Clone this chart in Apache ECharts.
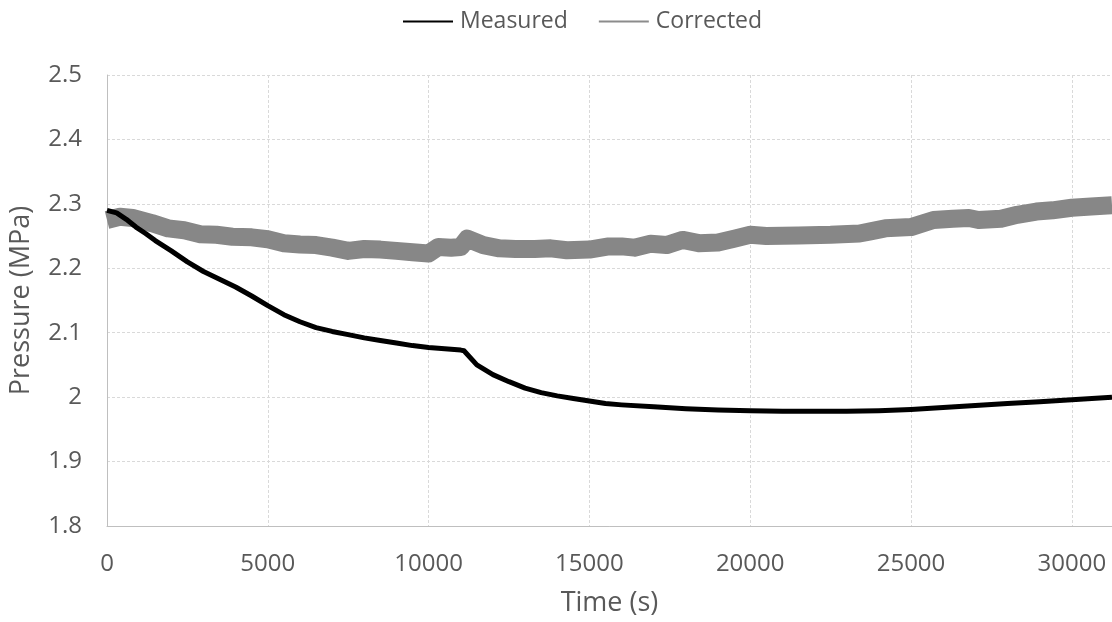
<!DOCTYPE html>
<html>
<head>
<meta charset="utf-8">
<script src="https://cdn.jsdelivr.net/npm/echarts@6/dist/echarts.min.js"></script>
<style>
html,body{margin:0;padding:0;background:#fff;}
#chart{width:1112px;height:622px;}
</style>
</head>
<body>
<div id="chart"></div>
<script>
// Time (s) and pressure (MPa)
var measuredTime = [0, 300, 600, 900, 1200, 1500, 2000, 2500, 3000, 3500, 4000, 4500, 5000, 5500, 6000, 6500, 7000, 7500, 8000, 8500, 9000, 9500, 10000, 10500, 11000, 11100, 11500, 12000, 12500, 13000, 13500, 14000, 14500, 15000, 15500, 16000, 17000, 18000, 19000, 20000, 21000, 22000, 23000, 24000, 25000, 26000, 27000, 28000, 29000, 30000, 31250];
var measuredPressure = [2.290, 2.286, 2.276, 2.264, 2.254, 2.243, 2.227, 2.210, 2.195, 2.183, 2.171, 2.157, 2.142, 2.128, 2.117, 2.108, 2.102, 2.097, 2.092, 2.088, 2.084, 2.080, 2.077, 2.075, 2.073, 2.072, 2.050, 2.035, 2.024, 2.014, 2.007, 2.002, 1.998, 1.994, 1.990, 1.988, 1.985, 1.982, 1.980, 1.979, 1.978, 1.978, 1.978, 1.979, 1.981, 1.984, 1.987, 1.990, 1.993, 1.996, 2.000];

var correctedTime = [0, 400, 800, 1400, 1900, 2400, 2900, 3400, 3900, 4500, 5000, 5500, 6000, 6500, 7000, 7500, 8000, 8500, 9000, 9500, 10000, 10300, 10700, 11000, 11200, 11700, 12200, 12700, 13300, 13800, 14300, 15000, 15600, 16000, 16400, 16900, 17400, 17900, 18400, 19000, 19500, 20000, 20500, 21500, 22500, 23400, 23700, 24200, 25000, 25700, 26300, 26800, 27100, 27800, 28300, 28900, 29400, 30000, 30600, 31250];
var correctedPressure = [2.275, 2.280, 2.278, 2.270, 2.262, 2.259, 2.253, 2.252, 2.249, 2.248, 2.245, 2.239, 2.237, 2.236, 2.232, 2.227, 2.230, 2.229, 2.227, 2.225, 2.223, 2.233, 2.232, 2.233, 2.246, 2.236, 2.231, 2.230, 2.230, 2.231, 2.228, 2.229, 2.234, 2.234, 2.232, 2.238, 2.236, 2.244, 2.239, 2.240, 2.246, 2.252, 2.250, 2.251, 2.252, 2.254, 2.257, 2.262, 2.264, 2.275, 2.277, 2.278, 2.275, 2.277, 2.283, 2.288, 2.290, 2.294, 2.296, 2.298];

var seriesNames = ['Measured', 'Corrected'];
var xTitle = 'Time (s)';
var yTitle = 'Pressure (MPa)';

function pairs(xs, ys) {
  var out = [];
  for (var i = 0; i < xs.length; i++) out.push([xs[i], ys[i]]);
  return out;
}

var textColor = '#595959';
var font = 'Open Sans';

var chart = echarts.init(document.getElementById('chart'));
chart.setOption({
  animation: false,
  backgroundColor: '#ffffff',
  textStyle: { fontFamily: font },
  legend: {
    left: 398,
    top: 5,
    icon: 'rect',
    itemWidth: 50,
    itemHeight: 2,
    itemGap: 31,
    textStyle: { fontFamily: font, fontSize: 23, color: textColor, padding: [0, 0, 0, 2] },
    data: [
      { name: seriesNames[0], itemStyle: { color: '#000000' } },
      { name: seriesNames[1], itemStyle: { color: '#8c8c8c' } }
    ]
  },
  grid: { left: 106, right: 0, top: 75, bottom: 94, containLabel: false },
  xAxis: {
    type: 'value',
    min: 0,
    max: 31250,
    interval: 5000,
    name: xTitle,
    nameLocation: 'middle',
    nameGap: 64,
    nameTextStyle: { fontFamily: font, fontSize: 27, color: textColor },
    axisLine: { show: true, lineStyle: { color: '#bfbfbf', width: 1 } },
    axisTick: { show: false },
    axisLabel: {
      showMaxLabel: false, margin: 26, fontFamily: font, fontSize: 24, color: textColor,
      formatter: function (v) { return String(v); }
    },
    splitLine: { show: true, lineStyle: { color: '#d9d9d9', width: 1, type: [3, 2] } }
  },
  yAxis: {
    type: 'value',
    min: 1.8,
    max: 2.5,
    interval: 0.1,
    name: yTitle,
    nameLocation: 'middle',
    nameGap: 72,
    nameRotate: 90,
    nameTextStyle: { fontFamily: font, fontSize: 27, color: textColor },
    axisLine: { show: true, lineStyle: { color: '#bfbfbf', width: 1 } },
    axisTick: { show: false },
    axisLabel: { margin: 25, fontFamily: font, fontSize: 24, color: textColor },
    splitLine: { show: true, lineStyle: { color: '#d9d9d9', width: 1, type: [3, 2] } }
  },
  series: [
    {
      name: seriesNames[1],
      type: 'line',
      data: pairs(correctedTime, correctedPressure),
      showSymbol: false,
      symbol: 'none',
      color: '#878787',
      lineStyle: { color: '#878787', width: 18, join: 'round', cap: 'butt' },
      z: 2
    },
    {
      name: seriesNames[0],
      type: 'line',
      data: pairs(measuredTime, measuredPressure),
      showSymbol: false,
      symbol: 'none',
      color: '#000000',
      lineStyle: { color: '#000000', width: 5, join: 'round' },
      z: 3
    }
  ]
});
</script>
</body>
</html>
